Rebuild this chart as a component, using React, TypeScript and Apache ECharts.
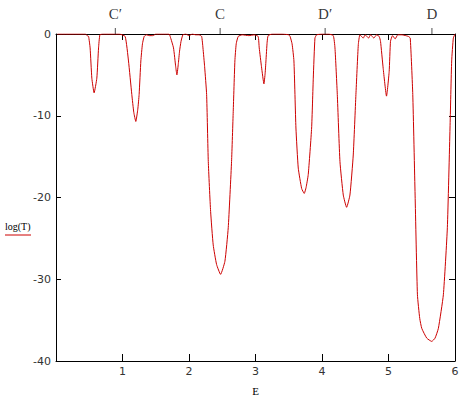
import React, { useEffect, useRef } from "react";
import * as echarts from "echarts";

const energy = [
  0.02, 0.3, 0.44, 0.47, 0.49, 0.513, 0.539, 0.573, 0.614, 0.64, 0.66, 0.7,
  0.95, 1.04, 1.09, 1.14, 1.17, 1.2, 1.23, 1.25, 1.276, 1.3, 1.326, 1.36, 1.4, 1.46, 1.5,
  1.7, 1.717, 1.767, 1.8, 1.818, 1.84, 1.858, 1.88, 1.908, 1.95, 2.0, 2.05, 2.1, 2.15,
  2.19, 2.21, 2.235, 2.265, 2.29, 2.325, 2.364, 2.415, 2.475, 2.54, 2.59, 2.64, 2.665, 2.69, 2.71, 2.74,
  2.8, 2.9, 2.98, 3.04, 3.056, 3.09, 3.127, 3.145, 3.157, 3.175, 3.19, 3.25, 3.4,
  3.5, 3.52, 3.55, 3.578, 3.608, 3.643, 3.694, 3.733, 3.76, 3.793, 3.844, 3.869, 3.894, 3.92,
  4.0, 4.1, 4.17, 4.195, 4.23, 4.27, 4.32, 4.37, 4.42, 4.47, 4.51, 4.546, 4.57,
  4.62, 4.65, 4.7, 4.73, 4.78, 4.82, 4.86, 4.88, 4.92, 4.97, 5.01, 5.03, 5.06, 5.1, 5.14, 5.2, 5.26, 5.3,
  5.327, 5.365, 5.4, 5.435, 5.47, 5.5, 5.575, 5.65, 5.7, 5.75, 5.825, 5.885, 5.925, 5.95, 5.975, 6.0,
];

const logT = [
  0, 0, 0, -0.2, -0.3, -1.7, -5.4, -7.2, -5.4, -1.7, -0.1, 0,
  0, -0.3, -3.3, -7.4, -9.6, -10.7, -9.2, -7.4, -3.3, -1.2, -0.3, -0.1, -0.2, -0.2, 0,
  0, -0.3, -1.7, -4.0, -5.0, -3.6, -2.1, -0.9, -0.1, 0, -0.2, 0, -0.1, -0.1,
  -0.3, -1.7, -4.0, -7.4, -15.6, -21.7, -25.8, -28.2, -29.4, -27.8, -23.7, -15.6, -9.5, -3.3, -1.2, -0.3,
  -0.1, -0.2, -0.1, -0.3, -1.7, -4.0, -6.1, -4.8, -3.3, -1.0, -0.2, 0, 0,
  -0.1, -0.3, -1.2, -3.3, -11.5, -16.4, -18.9, -19.5, -18.8, -17.2, -11.5, -5.4, -0.5, -0.1,
  0, 0, -0.2, -1.7, -7.4, -15.6, -19.7, -21.2, -19.7, -14.8, -7.4, -1.3, -0.1,
  -0.5, -0.1, -0.5, -0.1, -0.5, -0.1, -0.3, -0.9, -4.2, -7.6, -4.6, -0.9, -0.2, -0.6, -0.1, -0.1, -0.2, -0.3,
  -0.5, -7.4, -19.7, -31.9, -34.8, -36.0, -37.2, -37.6, -37.2, -36.0, -31.9, -23.7, -11.5, -3.3, -0.5, 0,
];

const markerValues = [0.892, 2.468, 4.047, 5.653];
const markerLabels = ["C\u2032", "C", "D\u2032", "D"];

const xTicks = [1, 2, 3, 4, 5, 6];

export default function App() {
  const ref = useRef<HTMLDivElement>(null);
  useEffect(() => {
    if (!ref.current) return;
    const chart = echarts.init(ref.current, null, { renderer: "svg" });
    const data = energy.map((e, i) => [e, logT[i]]);
    const markers = markerValues.map((v, i) => ({ value: [v, 0], name: markerLabels[i] }));
    const axisLine = { show: true, onZero: false, lineStyle: { color: "#000", width: 1 } };
    const labelFont = { color: "#333", fontSize: 11, fontFamily: "DejaVu Sans" };
    chart.setOption({
      animation: false,
      backgroundColor: "#fff",
      grid: { left: 56, top: 34, right: 20, bottom: 42, containLabel: false },
      xAxis: [
        {
          type: "value",
          position: "bottom",
          min: 0,
          max: 6,
          interval: 1,
          axisLine,
          axisTick: { show: true, inside: true, length: 7, lineStyle: { color: "#000" } },
          axisLabel: {
            ...labelFont,
            margin: 5,
            formatter: (v: number) => (xTicks.includes(v) ? String(v) : ""),
          },
          splitLine: { show: false },
          name: "E",
          nameLocation: "middle",
          nameGap: 24,
          nameTextStyle: { color: "#000", fontSize: 11, fontFamily: "Liberation Serif" },
        },
        {
          type: "value",
          position: "top",
          min: 0,
          max: 6,
          interval: 1,
          axisLine,
          axisTick: { show: true, inside: true, length: 6, lineStyle: { color: "#000" } },
          axisLabel: { show: false },
          splitLine: { show: false },
        },
      ],
      yAxis: [
        {
          type: "value",
          position: "left",
          min: -40,
          max: 0,
          interval: 10,
          axisLine,
          axisTick: { show: true, inside: true, length: 5, lineStyle: { color: "#000" } },
          axisLabel: { ...labelFont, margin: 5 },
          splitLine: { show: false },
        },
        {
          type: "value",
          position: "right",
          min: -40,
          max: 0,
          interval: 10,
          axisLine,
          axisTick: { show: true, inside: true, length: 6, lineStyle: { color: "#000" } },
          axisLabel: { show: false },
          splitLine: { show: false },
        },
      ],
      series: [
        {
          type: "line",
          name: "log(T)",
          xAxisIndex: 0,
          yAxisIndex: 0,
          data,
          showSymbol: false,
          symbol: "none",
          smooth: 0.15,
          lineStyle: { color: "#cc0000", width: 1 },
          itemStyle: { color: "#cc0000" },
          z: 3,
        },
        {
          type: "scatter",
          xAxisIndex: 0,
          yAxisIndex: 0,
          data: markers,
          clip: false,
          symbol: "rect",
          symbolSize: [1, 6],
          symbolOffset: [0, -3],
          itemStyle: { color: "#222" },
          silent: true,
          label: {
            show: true,
            position: "top",
            distance: 7,
            formatter: (p: any) => p.name,
            color: "#000",
            fontSize: 15,
            fontFamily: "Liberation Serif",
          },
          z: 4,
        },
      ],
      graphic: [
        {
          type: "text",
          left: 5,
          top: 221,
          style: { text: "log(T)", fill: "#000", fontSize: 10, fontFamily: "Liberation Serif" },
        },
        {
          type: "line",
          shape: { x1: 5, y1: 235, x2: 31, y2: 235 },
          style: { stroke: "#cc0000", lineWidth: 1 },
        },
      ],
    });
    return () => chart.dispose();
  }, []);
  return (
    <div
      ref={ref}
      style={{ position: "fixed", left: 0, top: 0, width: 475, height: 403, background: "#fff" }}
    />
  );
}
